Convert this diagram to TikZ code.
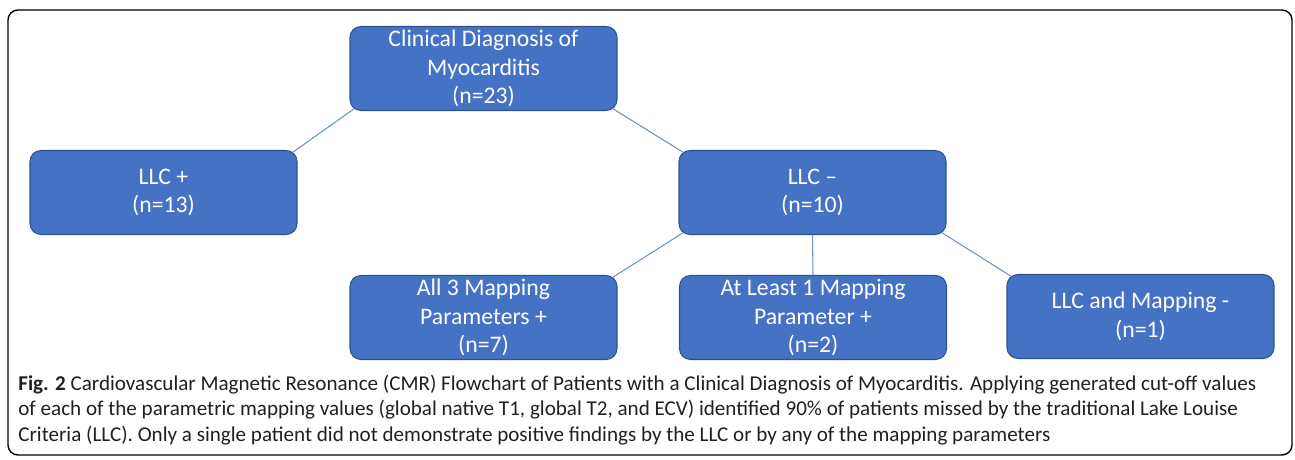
\documentclass[tikz,border=0pt]{standalone}
\usepackage{fontspec}
\setmainfont{Carlito}
\usepackage{xcolor}
\usetikzlibrary{positioning}

\definecolor{boxblue}{HTML}{4472C4}
\definecolor{boxedge}{HTML}{2F528F}
\definecolor{linkblue}{HTML}{6C90D2}
\definecolor{captext}{HTML}{231F20}

\tikzset{
    box/.style = {draw = boxedge, line width = 0.6pt, fill = boxblue, rounded corners = 0.22cm,
                  minimum width = 5.34cm, minimum height = 1.68cm, align = center, text = white,
                  font = \fontsize{13.5}{16.2}\selectfont, inner sep = 0pt},
    link/.style = {draw = linkblue, line width = 0.6pt},
    capline/.style = {anchor = base west, inner sep = 0pt, text = captext,
                      font = \fontsize{12}{14}\selectfont}
}

\begin{document}
\begin{tikzpicture}
    \useasboundingbox (0,0) rectangle (25.9,9.18);
    \draw[line width = 0.8pt, rounded corners = 0.2cm] (0.16,0.08) rectangle (25.84,8.98);

    \node[box] (clin) at (9.67,7.81) {Clinical Diagnosis of\\Myocarditis\\(n=23)};
    \node[box] (llcpos) at (3.27,5.33) {LLC +\\(n=13)};
    \node[box] (llcneg) at (16.25,5.33) {LLC --\\(n=10)};
    \node[box] (allthree) at (9.67,2.83) {All 3 Mapping\\Parameters +\\(n=7)};
    \node[box] (atleast) at (16.26,2.83) {At Least 1 Mapping\\Parameter +\\(n=2)};
    \node[box] (none) at (22.81,2.85) {LLC and Mapping -\\(n=1)};

    % connectors
    \draw[link] (clin.south west) ++(0.1,0.05) -- ([shift={(-0.1,-0.05)}]llcpos.north east);
    \draw[link] (clin.south east) ++(-0.1,0.05) -- ([shift={(0.1,-0.05)}]llcneg.north west);
    \draw[link] (llcneg.south west) ++(0.1,0.05) -- ([shift={(-0.1,-0.05)}]allthree.north east);
    \draw[link] (llcneg.south) -- (atleast.north);
    \draw[link] (llcneg.south east) ++(-0.1,0.05) -- ([shift={(0.1,-0.05)}]none.north west);

    % caption
    \node[capline] (cap1) at (0.36,1.36) {\textbf{Fig. 2} Cardiovascular Magnetic Resonance (CMR) Flowchart of Patients with a Clinical Diagnosis of Myocarditis. Applying generated cut-off values};
    \node[capline] (cap2) at (0.36,0.87) {of each of the parametric mapping values (global native T1, global T2, and ECV) identified 90\% of patients missed by the traditional Lake Louise};
    \node[capline] (cap3) at (0.36,0.35) {Criteria (LLC). Only a single patient did not demonstrate positive findings by the LLC or by any of the mapping parameters};
\end{tikzpicture}
\end{document}
